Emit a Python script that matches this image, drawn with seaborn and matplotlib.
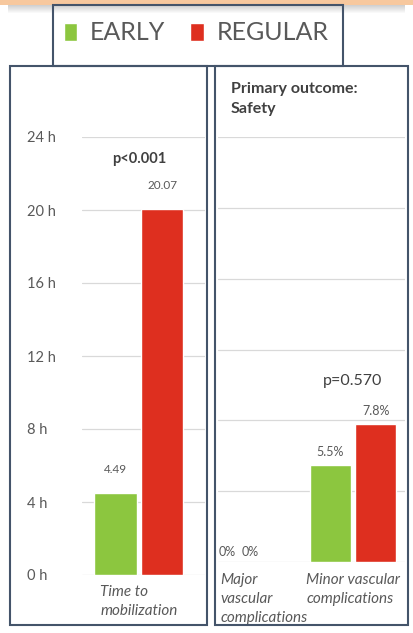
import pandas as pd
import matplotlib.pyplot as plt
import seaborn as sns
from matplotlib.patches import Rectangle

# data
groups = ['EARLY', 'REGULAR']
group_colors = ['#8CC63F', '#DE2F1F']

mob_category = ['Time to mobilization']
mob_hours = [4.49, 20.07]
mob_labels = ['4.49', '20.07']
mob_ticks = [0, 4, 8, 12, 16, 20, 24]
mob_tick_labels = ['0 h', '4 h', '8 h', '12 h', '16 h', '20 h', '24 h']
mob_p = 'p<0.001'

comp_categories = ['Major', 'Minor']
comp_category_labels = ['Major\nvascular\ncomplications', 'Minor vascular\ncomplications']
comp_early = [0.0, 5.5]
comp_regular = [0.0, 7.8]
comp_early_labels = ['0%', '5.5%']
comp_regular_labels = ['0%', '7.8%']
comp_grid = [0, 4, 8, 12, 16, 20, 24]
comp_p = 'p=0.570'

sns.set_style('white')
plt.rcParams['font.family'] = ['Lato', 'DejaVu Sans']

W, H = 413, 633
fig = plt.figure(figsize=(W / 100, H / 100), dpi=100)


def fx(px):
    return px / W


def fy(py):
    return 1 - py / H


grid_col = '#D9D9D9'
txt_col = '#595959'
dark_col = '#404040'
box_col = '#44546A'

# --- left panel: time to mobilization ---
ax1 = fig.add_axes([fx(82), fy(575), (205 - 82) / W, (575 - 137) / H])
df_mob = pd.DataFrame({'cat': mob_category * 2, 'group': groups, 'hours': mob_hours})
sns.barplot(data=df_mob, x='cat', y='hours', hue='group', hue_order=groups,
            palette=group_colors, saturation=1, gap=0.08, errorbar=None, ax=ax1)
ax1.get_legend().remove()
ax1.set_xlim(-0.49, 0.57)
ax1.set_ylim(0, 24)
ax1.set_yticks(mob_ticks)
ax1.set_yticklabels(mob_tick_labels, ha='left', fontsize=10.5, color=txt_col)
ax1.tick_params(axis='y', length=0, pad=39.6)
ax1.set_xticks([])
ax1.set_xlabel('')
ax1.set_ylabel('')
ax1.yaxis.grid(True, color=grid_col, lw=0.9)
sns.despine(ax=ax1, left=True, bottom=True)

labels_mob = [[mob_labels[0]], [mob_labels[1]]]
for cont, labs in zip(ax1.containers, labels_mob):
    for bar, lab in zip(cont, labs):
        ax1.annotate(lab, (bar.get_x() + bar.get_width() / 2, bar.get_height()),
                     xytext=(0, 13), textcoords='offset points',
                     ha='center', va='bottom', fontsize=8.5, color=txt_col)
ax1.annotate(mob_p, (0, max(mob_hours)), xytext=(0, 36), textcoords='offset points',
             ha='center', va='center', fontsize=10.5, fontweight='bold', color=dark_col)
ax1.annotate('Time to\nmobilization', (0, 0), xycoords=('data', 'axes fraction'),
             xytext=(0, -7), textcoords='offset points', ha='center', va='top',
             multialignment='left', linespacing=1.45, fontsize=11,
             style='italic', color=txt_col)

# --- right panel: vascular complications ---
ax2 = fig.add_axes([fx(218), fy(562), (405 - 218) / W, (562 - 137) / H])
df_comp = pd.DataFrame({'cat': comp_categories * 2,
                        'group': ['EARLY'] * 2 + ['REGULAR'] * 2,
                        'pct': comp_early + comp_regular})
sns.barplot(data=df_comp, x='cat', y='pct', hue='group', hue_order=groups,
            palette=group_colors, saturation=1, gap=0.1, errorbar=None, ax=ax2)
handles, leg_labels = ax2.get_legend_handles_labels()
ax2.get_legend().remove()
ax2.set_xlim(-0.184, 1.456)
ax2.set_ylim(0, 24)
ax2.set_yticks(comp_grid)
ax2.set_yticklabels([])
ax2.tick_params(axis='y', length=0)
ax2.set_xticks([])
ax2.set_xlabel('')
ax2.set_ylabel('')
ax2.yaxis.grid(True, color=grid_col, lw=0.9)
sns.despine(ax=ax2, left=True, bottom=True)

for cont, labs in zip(ax2.containers, [comp_early_labels, comp_regular_labels]):
    for bar, lab in zip(cont, labs):
        xc = bar.get_x() + bar.get_width() / 2
        h = bar.get_height()
        if h == 0:
            xc = (xc + round(xc)) / 2
        ax2.annotate(lab, (xc, h), xytext=(0, 5 if h > 0 else 3),
                     textcoords='offset points', ha='center', va='bottom',
                     fontsize=9, color=txt_col)
ax2.annotate(comp_p, (1, max(comp_regular)), xytext=(0, 31), textcoords='offset points',
             ha='center', va='center', fontsize=11.5, color=dark_col)

label_shift = [-0.16, -0.41]
for i, lab in enumerate(comp_category_labels):
    ax2.annotate(lab, (i + label_shift[i], 0), xycoords=('data', 'axes fraction'),
                 xytext=(0, -8), textcoords='offset points', ha='left', va='top',
                 linespacing=1.45, fontsize=11, style='italic', color=txt_col,
                 annotation_clip=False)

fig.text(fx(231), fy(82), 'Primary outcome:\nSafety', ha='left', va='top',
         linespacing=1.55, fontsize=11.5, fontweight='bold', color=dark_col)

# --- legend ---
fig.legend(handles, leg_labels, loc='center', bbox_to_anchor=(fx(196), fy(33)),
           ncol=2, frameon=False, fontsize=18, labelcolor=txt_col,
           handlelength=0.55, handleheight=0.75, handletextpad=0.5, columnspacing=1.0)

# --- boxes and top band ---
fig.patches.append(Rectangle((fx(53), fy(66)), 290 / W, 61 / H, transform=fig.transFigure,
                             fill=False, edgecolor=box_col, lw=1.5, zorder=5))
fig.patches.append(Rectangle((fx(10), fy(625)), 197 / W, 559 / H, transform=fig.transFigure,
                             fill=False, edgecolor=box_col, lw=1.5, zorder=5))
fig.patches.append(Rectangle((fx(215), fy(625)), 193 / W, 559 / H, transform=fig.transFigure,
                             fill=False, edgecolor=box_col, lw=1.5, zorder=5))
for i in range(8):
    fig.patches.append(Rectangle((fx(8), fy(5 + i + 1)), 397 / W, 1 / H,
                                 transform=fig.transFigure, color='#7A7A7A',
                                 alpha=0.35 * (1 - i / 8), lw=0, zorder=1))
fig.patches.append(Rectangle((0, fy(5)), 1, 5 / H, transform=fig.transFigure,
                             color='#F7C89E', lw=0, zorder=2))

fig.savefig('out.png', dpi=100)
